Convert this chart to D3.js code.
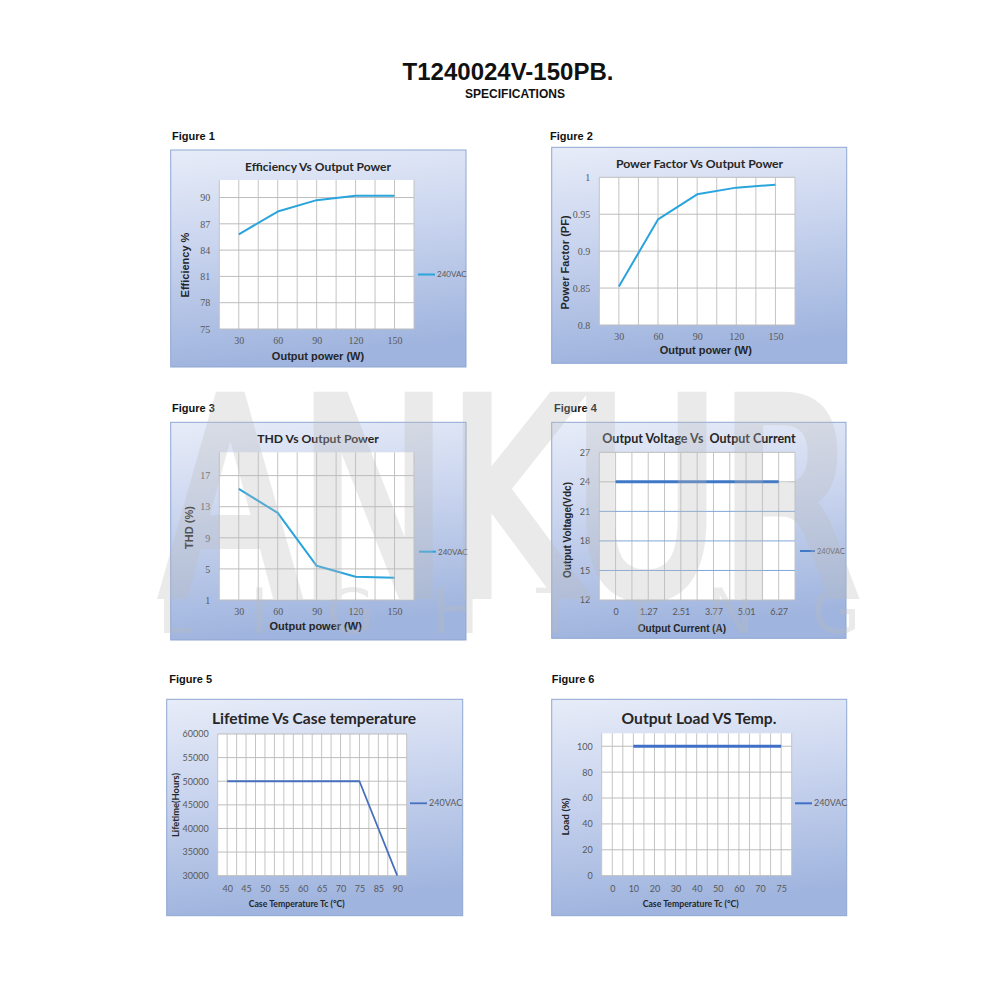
<!DOCTYPE html>
<html><head><meta charset="utf-8">
<script src="https://cdn.jsdelivr.net/npm/d3@7"></script>
<style>html,body{margin:0;padding:0;background:#fff}</style>
</head><body>
<svg id="c" width="1000" height="1000"></svg>
<script>
// ---------- data ----------
const powerCats = ["30", "60", "90", "120", "150"];
const efficiency240 = [85.8, 88.4, 89.7, 90.2, 90.2];
const effTicks = [75, 78, 81, 84, 87, 90];
const powerFactor240 = [0.852, 0.943, 0.977, 0.986, 0.990];
const pfTicks = [0.8, 0.85, 0.9, 0.95, 1];
const thd240 = [15.3, 12.2, 5.4, 4.0, 3.85];
const thdTicks = [1, 5, 9, 13, 17];
const currentCats = ["0", "1.27", "2.51", "3.77", "5.01", "6.27"];
const voltage240 = [24, 24, 24, 24, 24, 24];
const voltTicks = [12, 15, 18, 21, 24, 27];
const caseTempCats = ["40", "45", "50", "55", "60", "65", "70", "75", "85", "90"];
const lifetime240 = [50000, 50000, 50000, 50000, 50000, 50000, 50000, 50000, 40000, 30000];
const lifeTicks = [30000, 35000, 40000, 45000, 50000, 55000, 60000];
const loadTempCats = ["0", "10", "20", "30", "40", "50", "60", "70", "75"];
const load240 = [null, 100, 100, 100, 100, 100, 100, 100, 100];
const loadTicks = [0, 20, 40, 60, 80, 100];
const seriesName = "240VAC";

// ---------- layout ----------
const svg = d3.select("#c");
const defs = svg.append("defs");
const grad = defs.append("linearGradient").attr("id", "frameGrad")
  .attr("x1", 0).attr("y1", 0).attr("x2", 0.15).attr("y2", 1);
grad.append("stop").attr("offset", "0%").attr("stop-color", "#e7ecf8");
grad.append("stop").attr("offset", "45%").attr("stop-color", "#c9d4ee");
grad.append("stop").attr("offset", "100%").attr("stop-color", "#9fb4de");

const SANS = "'Liberation Sans', Arial, sans-serif";
const CAL = "Lato, 'Open Sans', sans-serif";
const SERIF = "'Liberation Serif', serif";

svg.append("text").attr("x", 508).attr("y", 80).attr("text-anchor", "middle")
  .style("font-family", SANS).style("font-weight", "bold").style("font-size", "24px")
  .attr("fill", "#111").text("T1240024V-150PB.");
svg.append("text").attr("x", 515).attr("y", 97.5).attr("text-anchor", "middle")
  .style("font-family", SANS).style("font-weight", "bold").style("font-size", "12px")
  .attr("fill", "#111").text("SPECIFICATIONS");

const panels = [
  { fig: "Figure 1", figX: 172, figY: 140, frame: [170.7, 150, 295.3, 217], plot: [219.3, 180, 194.7, 149],
    cats: powerCats, vals: efficiency240, yDomain: [75, 92], yTicks: effTicks, tickFont: SERIF, tickSize: 10,
    title: "Efficiency Vs Output Power", titlePos: [318, 170.5], titleSize: 12, titleFont: CAL,
    yLabel: "Efficiency %", yLabelPos: [189, 265], xLabel: "Output power (W)", xLabelPos: [318, 359.5],
    labelSize: 11, yLabelSize: 11, labelFont: SANS, xPad: 8, color: "#2aa4dc", width: 2, curve: d3.curveLinear,
    legend: [418, 435, 274.5], legendSize: 8, hGridColor: null },
  { fig: "Figure 2", figX: 550, figY: 140, frame: [551.7, 147.3, 295, 216], plot: [599.3, 177.3, 195.7, 147.7],
    cats: powerCats, vals: powerFactor240, yDomain: [0.8, 1], yTicks: pfTicks, tickFont: SERIF, tickSize: 10,
    title: "Power Factor Vs Output Power", titlePos: [699.5, 167.8], titleSize: 12.2, titleFont: CAL,
    yLabel: "Power Factor (PF)", yLabelPos: [569, 262.5], xLabel: "Output power (W)", xLabelPos: [705.8, 354],
    labelSize: 11, yLabelSize: 11, labelFont: SANS, xPad: 8, color: "#2aa4dc", width: 2, curve: d3.curveLinear,
    legend: null, hGridColor: null },
  { fig: "Figure 3", figX: 172, figY: 412, frame: [170.7, 422.3, 295.3, 217.7], plot: [219.3, 452.3, 194.7, 147.7],
    cats: powerCats, vals: thd240, yDomain: [1, 20], yTicks: thdTicks, tickFont: SERIF, tickSize: 10,
    title: "THD Vs Output Power", titlePos: [318, 442.8], titleSize: 12.2, titleFont: CAL,
    yLabel: "THD (%)", yLabelPos: [193, 527.5], xLabel: "Output power (W)", xLabelPos: [315.7, 630],
    labelSize: 11, yLabelSize: 11, labelFont: SANS, xPad: 8, color: "#2aa4dc", width: 2, curve: d3.curveLinear,
    legend: [419, 436, 551.7], legendSize: 8, hGridColor: null },
  { fig: "Figure 4", figX: 554, figY: 412, frame: [551.7, 422.3, 294.3, 216], plot: [599.3, 452.3, 195.7, 147.7],
    cats: currentCats, vals: voltage240, yDomain: [12, 27], yTicks: voltTicks, tickFont: CAL, tickSize: 9,
    title: "Output Voltage Vs\u00a0 Output Current", titlePos: [699, 442.8], titleSize: 12.5, titleFont: CAL,
    yLabel: "Output Voltage(Vdc)", yLabelPos: [570.5, 530], xLabel: "Output Current (A)", xLabelPos: [682, 632],
    labelSize: 10, yLabelSize: 10, labelFont: SANS, xPad: 9, color: "#3f78c6", width: 3, curve: d3.curveLinear,
    legend: [800, 815, 551], legendSize: 7.5, hGridColor: "#7fa7da" },
  { fig: "Figure 5", figX: 169.3, figY: 683, frame: [166.7, 699.3, 296, 216.4], plot: [217.7, 734, 189, 141.7],
    cats: caseTempCats, vals: lifetime240, yDomain: [30000, 60000], yTicks: lifeTicks, tickFont: CAL, tickSize: 9,
    title: "Lifetime Vs Case temperature", titlePos: [314, 724], titleSize: 15.6, titleFont: CAL,
    yLabel: "Lifetime(Hours)", yLabelPos: [178.5, 805], xLabel: "Case Temperature Tc (°C)", xLabelPos: [296.7, 907.3],
    labelSize: 8.7, yLabelSize: 9.3, labelFont: CAL, xPad: 10, color: "#4670bd", width: 1.8, curve: d3.curveLinear,
    legend: [410, 427, 803.3], legendSize: 9, hGridColor: null },
  { fig: "Figure 6", figX: 551.7, figY: 683, frame: [551.7, 699.3, 295, 216.4], plot: [601.7, 733.3, 190, 142.4],
    cats: loadTempCats, vals: load240, yDomain: [0, 110], yTicks: loadTicks, tickFont: CAL, tickSize: 9,
    title: "Output Load VS Temp.", titlePos: [699, 724], titleSize: 15.6, titleFont: CAL,
    yLabel: "Load (%)", yLabelPos: [568.5, 816.7], xLabel: "Case Temperature Tc (°C)", xLabelPos: [690.7, 907.3],
    labelSize: 8.7, yLabelSize: 10, labelFont: CAL, xPad: 10, color: "#3f6fc6", width: 3, curve: d3.curveLinear,
    legend: [795, 812, 803.3], legendSize: 9, hGridColor: null }
];

panels.forEach(p => {
  const g = svg.append("g");
  const [fx, fy, fw, fh] = p.frame;
  const [px, py, pw, ph] = p.plot;
  const n = p.cats.length;

  g.append("text").attr("x", p.figX).attr("y", p.figY)
    .style("font-family", SANS).style("font-weight", "bold").style("font-size", "11px")
    .attr("fill", "#111").text(p.fig);

  g.append("rect").attr("x", fx).attr("y", fy).attr("width", fw).attr("height", fh)
    .attr("fill", "url(#frameGrad)").attr("stroke", "#8ea7d2").attr("stroke-width", 1);

  const x = d3.scaleLinear().domain([-0.5, n - 0.5]).range([px, px + pw]);
  const y = d3.scaleLinear().domain(p.yDomain).range([py + ph, py]);

  g.append("rect").attr("x", px).attr("y", py).attr("width", pw).attr("height", ph).attr("fill", "#fff");

  const vGrid = d3.range(0, 2 * n + 1).map(i => -0.5 + i * 0.5);
  g.append("g").selectAll("line").data(vGrid).enter().append("line")
    .attr("x1", d => x(d)).attr("x2", d => x(d)).attr("y1", py).attr("y2", py + ph)
    .attr("stroke", "#c4c4c4").attr("stroke-width", 1);

  g.append("g").selectAll("line").data(p.yTicks).enter().append("line")
    .attr("x1", px).attr("x2", px + pw).attr("y1", d => y(d)).attr("y2", d => y(d))
    .attr("stroke", (d, i) => (p.hGridColor && i > 0 && i < p.yTicks.length - 1 && d !== 24) ? p.hGridColor : "#bdbdbd")
    .attr("stroke-width", 1);

  const ya = d3.axisLeft(y).tickValues(p.yTicks).tickSize(0).tickPadding(9).tickFormat(d => String(d));
  const yg = g.append("g").attr("transform", `translate(${px},0)`).call(ya);
  yg.select(".domain").remove();
  yg.selectAll("text").style("font-family", p.tickFont).style("font-size", p.tickSize + "px").attr("fill", "#595959");

  const xa = d3.axisBottom(x).tickValues(d3.range(n)).tickSize(0).tickPadding(p.xPad).tickFormat(i => p.cats[i]);
  const xg = g.append("g").attr("transform", `translate(0,${py + ph})`).call(xa);
  xg.select(".domain").remove();
  xg.selectAll("text").style("font-family", p.tickFont).style("font-size", p.tickSize + "px").attr("fill", "#595959");

  const line = d3.line().defined(d => d != null).x((d, i) => x(i)).y(d => y(d)).curve(p.curve);
  g.append("path").datum(p.vals).attr("d", line).attr("fill", "none")
    .attr("stroke", p.color).attr("stroke-width", p.width).attr("stroke-linejoin", "round");

  g.append("text").attr("x", p.titlePos[0]).attr("y", p.titlePos[1]).attr("text-anchor", "middle")
    .style("font-family", p.titleFont).style("font-weight", "bold").style("font-size", p.titleSize + "px")
    .attr("fill", "#262626").text(p.title);

  g.append("text").attr("transform", `translate(${p.yLabelPos[0]},${p.yLabelPos[1]}) rotate(-90)`)
    .attr("text-anchor", "middle")
    .style("font-family", p.labelFont).style("font-weight", "bold").style("font-size", p.yLabelSize + "px")
    .attr("fill", "#262626").text(p.yLabel);

  g.append("text").attr("x", p.xLabelPos[0]).attr("y", p.xLabelPos[1]).attr("text-anchor", "middle")
    .style("font-family", p.labelFont).style("font-weight", "bold").style("font-size", p.labelSize + "px")
    .attr("fill", "#262626").text(p.xLabel);

  if (p.legend) {
    const [l1, l2, ly] = p.legend;
    g.append("line").attr("x1", l1).attr("x2", l2).attr("y1", ly).attr("y2", ly)
      .attr("stroke", p.color).attr("stroke-width", Math.min(p.width, 2));
    g.append("text").attr("x", l2 + 2).attr("y", ly + p.legendSize * 0.35)
      .style("font-family", CAL).style("font-size", p.legendSize + "px").attr("fill", "#595959").text(seriesName);
  }
});

// watermark
const wm = svg.append("g").attr("fill", "#bcbcbc").attr("stroke", "#bcbcbc").attr("opacity", 0.3)
  .style("pointer-events", "none");
wm.append("text").attr("x", 162).attr("y", 593).attr("textLength", 696).attr("lengthAdjust", "spacingAndGlyphs")
  .attr("stroke-width", 12).attr("stroke-linejoin", "miter")
  .style("font-family", "'DejaVu Sans', sans-serif").style("font-size", "268px").text("ANKUR");
wm.append("text").attr("x", 158).attr("y", 633).attr("textLength", 702).attr("lengthAdjust", "spacing")
  .attr("stroke-width", 0)
  .style("font-family", "'DejaVu Sans', sans-serif").style("font-size", "62px").text("LIGHTING");
</script>
</body></html>
